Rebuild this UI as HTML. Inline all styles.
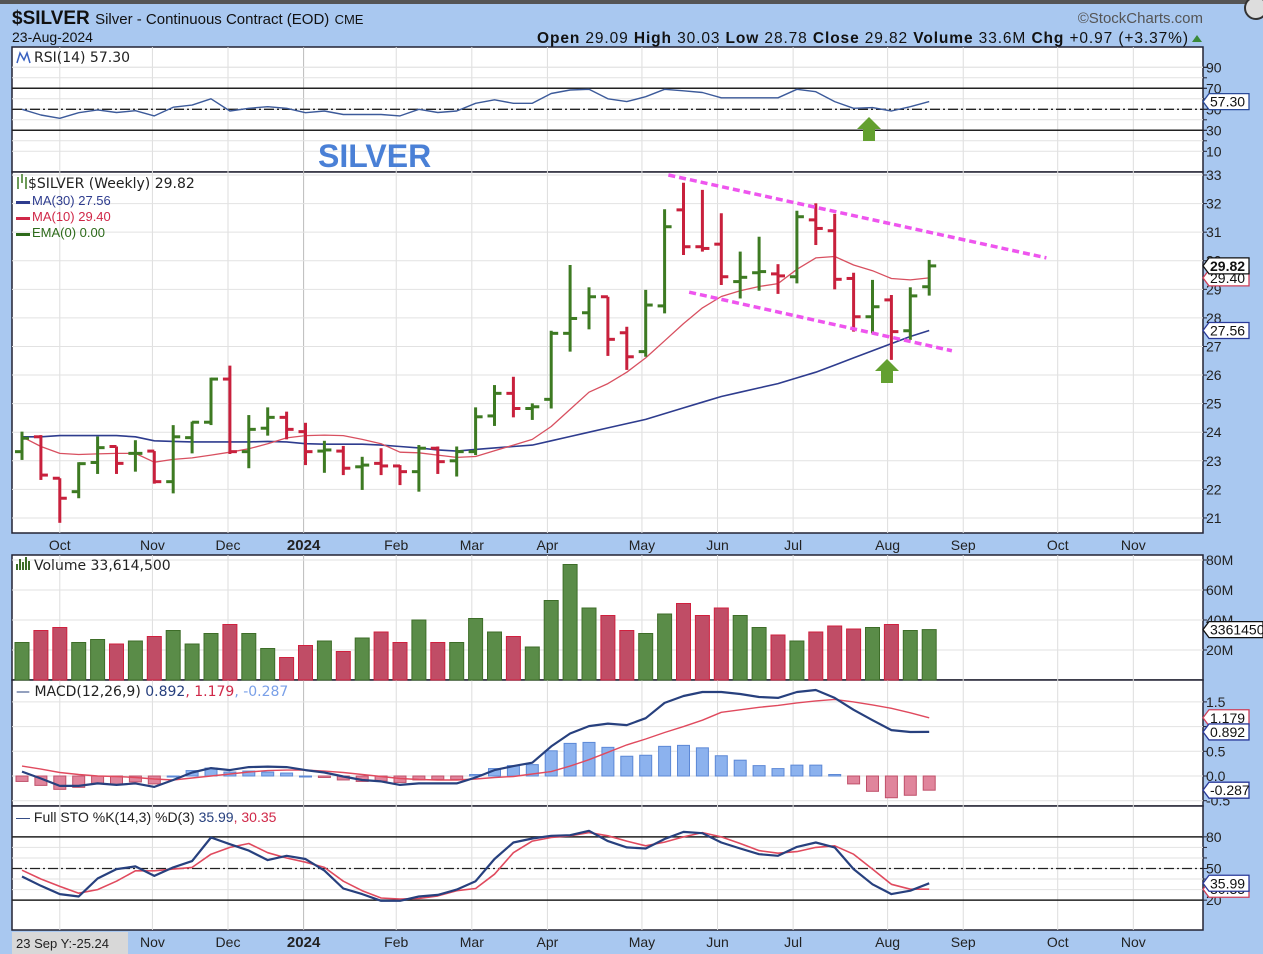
<!DOCTYPE html>
<html><head><meta charset="utf-8"><style>
html,body{margin:0;padding:0;background:#a9c8f0;}
svg{display:block;font-family:"Liberation Sans",sans-serif;}
</style></head><body>
<svg id="chart" width="1263" height="954" viewBox="0 0 1263 954" xmlns="http://www.w3.org/2000/svg">
<rect x="0" y="0" width="1263" height="954" fill="#a9c8f0"/>
<rect x="0" y="0" width="1263" height="4" fill="#555"/>
<circle cx="1256" cy="8" r="11" fill="#ddd" stroke="#333" stroke-width="2"/>
<text x="12" y="24" font-size="19" font-weight="bold" fill="#111">$SILVER <tspan font-size="15" font-weight="normal">Silver - Continuous Contract (EOD)</tspan> <tspan font-size="13" font-weight="normal">CME</tspan></text>
<text x="12" y="42" font-size="14" fill="#111">23-Aug-2024</text>
<text x="1203" y="23" font-size="15" fill="#555" text-anchor="end">©StockCharts.com</text>
<text x="537" y="43" font-size="15.5" fill="#111" textLength="651" lengthAdjust="spacing"><tspan font-weight="bold">Open</tspan> 29.09 <tspan font-weight="bold">High</tspan> 30.03 <tspan font-weight="bold">Low</tspan> 28.78 <tspan font-weight="bold">Close</tspan> 29.82 <tspan font-weight="bold">Volume</tspan> 33.6M <tspan font-weight="bold">Chg</tspan> +0.97 (+3.37%)</text>
<polygon points="1192,42 1202,42 1197,35" fill="#3a8a3a"/>
<g id="layer"></g>
</svg>
<script>
// ---- data ----
const opens  = [23.32,23.84,22.39,21.92,22.94,23.5,23.26,23.34,22.27,23.81,24.35,25.86,23.32,24.14,24.52,24.02,23.34,23.34,22.79,22.91,22.82,22.62,23.44,23.0,23.32,24.57,25.36,24.83,25.15,27.46,28.18,28.74,27.48,26.82,28.42,31.78,30.49,30.58,29.27,29.58,29.54,29.44,31.43,31.05,29.38,28.04,28.63,27.55,29.09];
const highs  = [24.02,23.9,22.39,22.95,23.85,23.5,23.72,23.34,24.25,24.37,25.91,26.33,24.6,24.87,24.72,24.33,23.7,23.52,23.14,23.44,22.85,23.55,23.5,23.5,24.87,25.65,25.94,25.01,27.55,29.85,29.07,28.74,27.69,28.98,31.8,32.73,32.48,31.66,30.32,30.84,29.88,31.75,32.01,31.64,29.58,29.33,28.8,29.07,30.03];
const lows   = [23.03,22.33,20.83,21.69,22.54,22.54,22.62,22.2,21.86,23.26,24.25,23.24,22.74,23.88,23.75,22.85,22.58,22.5,21.98,22.5,22.15,21.92,22.54,22.45,23.2,24.22,24.52,24.43,24.83,26.82,27.6,26.67,26.18,26.64,28.16,30.2,30.32,29.15,28.68,28.95,28.84,29.21,30.55,29.0,27.52,27.46,26.53,27.23,28.78];
const closes = [23.79,22.5,21.69,22.9,23.46,22.91,23.26,22.27,23.84,24.35,25.86,23.32,24.1,24.52,24.1,23.32,23.38,22.74,22.85,22.82,22.62,23.44,22.97,23.32,24.54,25.36,24.83,24.89,27.46,27.98,28.74,27.25,26.64,28.45,31.19,30.49,30.43,29.44,29.42,29.62,29.47,31.54,31.13,29.35,28.04,28.39,27.52,28.77,29.82];
const ma30 = [23.84,23.84,23.88,23.88,23.88,23.88,23.84,23.7,23.68,23.66,23.66,23.66,23.66,23.68,23.66,23.6,23.58,23.58,23.58,23.55,23.5,23.45,23.38,23.34,23.4,23.45,23.5,23.55,23.7,23.85,24.0,24.15,24.3,24.45,24.65,24.85,25.05,25.25,25.4,25.55,25.7,25.9,26.1,26.35,26.6,26.85,27.1,27.35,27.56];
const ma10 = [23.84,23.5,23.26,23.22,23.24,23.26,23.26,22.95,23.05,23.1,23.2,23.3,23.42,23.6,23.8,23.88,23.9,23.88,23.75,23.6,23.3,23.28,23.2,23.12,23.15,23.35,23.55,23.75,24.2,24.8,25.4,25.7,26.1,26.6,27.2,27.8,28.35,28.75,28.95,29.1,29.2,29.7,30.1,30.15,29.85,29.65,29.38,29.33,29.4];
const volumes = [25,33,35,25,27,24,26,29,33,24,31,37,31,21,15,23,26,19,28,32,25,40,25,25,41,32,29,22,53,77,48,43,33,31,44,51,43,48,43,35,30,26,32,36,34,35,37,33,33.6];
const rsi = [50,44.6,41.4,46.8,49.4,47,48.7,43.7,52,54,60,48.4,51,52.5,51,46.8,48.4,45,45,45,43.7,50,47,48.4,55.7,59,55.7,55.7,65,68.4,69,60,57.3,62,69,67.6,66,61,61,61,61,69,66.8,57.3,51,51.6,48.4,52.5,57.3];
const macd = [0.09,-0.05,-0.2,-0.2,-0.15,-0.18,-0.15,-0.22,-0.08,0.07,0.16,0.12,0.18,0.19,0.18,0.12,0.07,-0.01,-0.08,-0.11,-0.18,-0.15,-0.15,-0.15,-0.03,0.12,0.2,0.27,0.6,0.86,1.01,1.06,1.03,1.17,1.48,1.62,1.7,1.7,1.66,1.6,1.58,1.7,1.74,1.58,1.34,1.13,0.93,0.89,0.892];
const signal = [0.2,0.14,0.07,0.03,0.0,-0.01,-0.03,-0.06,-0.08,-0.04,0.0,0.04,0.08,0.11,0.12,0.12,0.1,0.07,0.03,-0.01,-0.05,-0.07,-0.08,-0.08,-0.06,-0.03,-0.01,0.04,0.09,0.2,0.33,0.48,0.63,0.75,0.88,1.0,1.13,1.29,1.34,1.39,1.43,1.48,1.52,1.55,1.5,1.44,1.37,1.28,1.179];
const stoK = [42.4,33.6,25.7,23.5,40.5,49.4,52,43,51,57,79.4,73,67,58,62,59,48,31,25.7,19.4,19.4,23.5,25,30,38,59,74.6,78.4,81,81.6,85.7,76,70,69,78,84.7,83.5,74.6,69,63.6,62,70.5,74.6,70,49.4,35,25.7,29,35.99];
const stoD = [48.4,40,33,26.6,30,38,47.8,47.8,49.4,51,63.6,70,73.7,65,60,56,51,38,29,22,21,21.6,24,29,31,44.6,65,76,79.4,81,84,81,76,71.5,75,80,84,80,73.7,67,64.5,66,70,71.5,63.6,49.4,35,30.4,30.35];
const monthLabels = ["Oct","Nov","Dec","2024","Feb","Mar","Apr","May","Jun","Jul","Aug","Sep","Oct","Nov"];
const monthPos = [2,6.9,10.9,14.9,19.8,23.8,27.8,32.8,36.8,40.8,45.8,49.8,54.8,58.8];
const bottomLabels = ["Nov","Dec","2024","Feb","Mar","Apr","May","Jun","Jul","Aug","Sep","Oct","Nov"];
const bottomPos = [6.9,10.9,14.9,19.8,23.8,27.8,32.8,36.8,40.8,45.8,49.8,54.8,58.8];
const priceTicks = [21,22,23,24,25,26,27,28,29,30,31,32,33];
const rsiTicks = [10,30,50,70,90];
const volTicks = [20,40,60,80];
const macdTicks = [-0.5,0,0.5,1,1.5];
const stoTicks = [20,50,80];
const upperTrend = [[34.2,33.0],[54.2,30.1]];
const lowerTrend = [[35.3,28.9],[49.2,26.85]];

// ---- scales ----
const L=12,R=1203;
const X=i=>22+i*18.9;
const yP=p=>175+(33-p)*28.58;
const yR=v=>109.3-(v-50)*1.05;
const yV=v=>680-v*1.5;
const yM=v=>776-v*49.4;
const yS=v=>868.5-(v-50)*1.055;
const NS="http://www.w3.org/2000/svg";
const layer=document.getElementById('layer');
function mk(tag,attrs,parent){const e=document.createElementNS(NS,tag);for(const k in attrs)e.setAttribute(k,attrs[k]);(parent||layer).appendChild(e);return e;}
const GREEN="#3d7a22",RED="#c8203c";

const panels=[["rsi-panel",47,172],["price-panel",172,533],["volume-panel",555,680],["macd-panel",680,806],["sto-panel",806,930]];
panels.forEach(p=>{
  const r=mk('rect',{x:L,y:p[1],width:R-L,height:p[2]-p[1],fill:"#fff",stroke:"#223",'stroke-width':1.5});
  
  
});
const gridG=mk('g',{});


monthPos.forEach((m,i)=>{
  const x=X(m);
  panels.forEach(p=>{const l=mk('line',{x1:x,x2:x,y1:p[1],y2:p[2],stroke:monthLabels[i]==="2024"?"#bbb":"#ddd","stroke-width":1},gridG);
  
  });
});
function hgrid(vals,fy,top,bot,name,lab,fmt){
  vals.forEach(v=>{const y=fy(v);if(y<top||y>bot)return;
    const l=mk('line',{x1:L,x2:R,y1:y,y2:y,stroke:"#e2e2e2"});
    
    
    const t=mk('line',{x1:R,x2:R+4,y1:y,y2:y,stroke:"#223"});
    
    
    if(lab){const tx=mk('text',{x:R+3,y:y+5,'font-size':14,fill:"#222"});tx.textContent=fmt?fmt(v):v;
    
    }
  });
}
hgrid(priceTicks,yP,172,533,'price-axis',true);
hgrid([20,30,40,50,60,70,80,90],yR,47,172,'rsi-axis',false);
hgrid(rsiTicks,yR,47,172,'rsi-axis',true);
hgrid(volTicks,yV,555,680,'volume-axis',true,v=>v+"M");
hgrid(macdTicks,yM,680,806,'macd-axis',true,v=>v.toFixed(1));
hgrid([30,40,60,70],yS,806,930,'sto-axis',false);
hgrid(stoTicks,yS,806,930,'sto-axis',true);
[[yR(70),"solid"],[yR(30),"solid"],[yR(50),"dash"],[yS(80),"solid"],[yS(20),"solid"],[yS(50),"dash"]].forEach(r=>{
  const l=mk('line',{x1:L,x2:R,y1:r[0],y2:r[0],stroke:"#222","stroke-width":r[1]==="solid"?1.5:1.3});
  if(r[1]==="dash")l.setAttribute('stroke-dasharray','10 3 2 3');
  
  
});
monthLabels.forEach((m,i)=>{const t=mk('text',{x:X(monthPos[i]),y:550,'font-size':m==="2024"?15:14,'font-weight':m==="2024"?"bold":"normal",fill:"#222",'text-anchor':'middle'});t.textContent=m;

});
bottomLabels.forEach((m,i)=>{const t=mk('text',{x:X(bottomPos[i]),y:947,'font-size':m==="2024"?15:14,'font-weight':m==="2024"?"bold":"normal",fill:"#222",'text-anchor':'middle'});t.textContent=m;

});
function line(vals,fy,color,w,name){const d=vals.map((v,i)=>(i?"L":"M")+X(i).toFixed(1)+","+fy(v).toFixed(1)).join("");
 const p=mk('path',{d:d,fill:"none",stroke:color,"stroke-width":w,"stroke-linejoin":"round"});
 
 }
line(rsi,yR,"#3c5a9a",1.4,'rsi-line');
volumes.forEach((v,i)=>{const up=closes[i]>=opens[i];
 const r=mk('rect',{x:X(i)-7,y:yV(v),width:14,height:680-yV(v),fill:up?"#5a8c48":"#c04d66",stroke:up?"#3d6d28":"#d0203e","stroke-width":1});
 
 });
macd.forEach((m,i)=>{const h=m-signal[i];const y0=yM(0),y1=yM(h);
 const r=mk('rect',{x:X(i)-6,y:Math.min(y0,y1),width:12,height:Math.max(1,Math.abs(y1-y0)),fill:h>=0?"#8cb2ee":"#e0859c",stroke:h>=0?"#5c88d6":"#c0506a","stroke-width":1});
 
 });
line(signal,yM,"#e04a5e",1.4,'macd-signal-line');
line(macd,yM,"#27407e",2.2,'macd-line');
line(stoD,yS,"#e04a5e",1.6,'sto-d-line');
line(stoK,yS,"#27407e",2.2,'sto-k-line');
line(ma30,yP,"#2e3c8e",1.6,'ma30-line');
line(ma10,yP,"#d85060",1.3,'ma10-line');
closes.forEach((c,i)=>{const up=c>=opens[i];const col=up?GREEN:RED;const x=X(i);
 const g=mk('g',{stroke:col,"stroke-width":3});
 
 
 mk('line',{x1:x,x2:x,y1:yP(highs[i]),y2:yP(lows[i])},g);
 mk('line',{x1:x-7,x2:x,y1:yP(opens[i]),y2:yP(opens[i])},g);
 mk('line',{x1:x,x2:x+7,y1:yP(c),y2:yP(c)},g);});
[[upperTrend,'upper-trendline'],[lowerTrend,'lower-trendline']].forEach(t=>{
 const l=mk('line',{x1:X(t[0][0][0]),y1:yP(t[0][0][1]),x2:X(t[0][1][0]),y2:yP(t[0][1][1]),stroke:"#ee55ee","stroke-width":3.5,"stroke-dasharray":"7 4"});
 
 });
function arrow(cx,top,name){const p=mk('polygon',{points:`${cx},${top} ${cx+12},${top+12} ${cx+6},${top+12} ${cx+6},${top+24} ${cx-6},${top+24} ${cx-6},${top+12} ${cx-12},${top+12}`,fill:"#63a030"});
 
 }
arrow(869,117,'rsi-green-arrow');
arrow(887,359,'price-green-arrow');
function flag(y,txt,col,bold,name,w){const x=1203;
 const p=mk('path',{d:`M${x},${y} L${x+6},${y-8} L${x+(w||46)},${y-8} L${x+(w||46)},${y+8} L${x+6},${y+8} Z`,fill:"#fff",stroke:col,"stroke-width":1.3});
 
 
 const t=mk('text',{x:x+7,y:y+5,'font-size':14,'font-weight':bold?"bold":"normal",fill:"#111"});t.textContent=txt;
 
 }
flag(yP(ma10[48]),ma10[48].toFixed(2),"#d04058",false,'ma10-value-flag');
flag(yP(closes[48]),closes[48].toFixed(2),"#111",true,'close-value-flag');
flag(yP(ma30[48]),ma30[48].toFixed(2),"#2a3a9a",false,'ma30-value-flag');
flag(yR(rsi[48]),rsi[48].toFixed(2),"#2a4a9a",false,'rsi-value-flag');
flag(yV(volumes[48]),"33614500","#111",false,'volume-value-flag',60);
flag(yM(signal[48]),signal[48].toFixed(3),"#d04058",false,'signal-value-flag');
flag(yM(macd[48]),macd[48].toFixed(3),"#2a3a9a",false,'macd-value-flag');
flag(yM(macd[48]-signal[48]),(macd[48]-signal[48]).toFixed(3),"#2a3a9a",false,'histogram-value-flag');
flag(yS(stoD[48]),stoD[48].toFixed(2),"#d04058",false,'sto-d-value-flag');
flag(yS(stoK[48]),stoK[48].toFixed(2),"#2a3a9a",false,'sto-k-value-flag');
function lab(x,y,txt,col,size,name,weight){const t=mk('text',{x:x,y:y,'font-size':size,fill:col,'font-family':'"DejaVu Sans",sans-serif','font-weight':weight||"normal"});t.innerHTML=txt;
 
 return t;}
lab(34,62,"RSI(14) 57.30","#222",14,'rsi-legend');
lab(28,188,"$SILVER (Weekly) 29.82","#222",14,'price-legend');
const f='"Liberation Sans",sans-serif';
lab(32,205,"MA(30) 27.56","#2e3c8e",13,'ma30-legend').setAttribute('font-family',f);
lab(32,221,"MA(10) 29.40","#d02848",13,'ma10-legend').setAttribute('font-family',f);
lab(32,237,"EMA(0) 0.00","#2d6a1a",13,'ema-legend').setAttribute('font-family',f);
[[201,"#2e3c8e"],[217,"#d02848"],[233,"#2d6a1a"]].forEach(a=>{const r=mk('rect',{x:16,y:a[0],width:14,height:3,fill:a[1]});
 
 });
lab(34,570,"Volume 33,614,500","#222",14,'volume-legend');
lab(16,696,'<tspan fill="#27407e">—</tspan> MACD(12,26,9) <tspan fill="#27407e">0.892</tspan><tspan fill="#d02848">, 1.179</tspan><tspan fill="#7aa0e8">, -0.287</tspan>',"#222",14,'macd-legend');
lab(16,822,'<tspan fill="#27407e">—</tspan> Full STO %K(14,3) %D(3) <tspan fill="#27407e">35.99</tspan><tspan fill="#d02848">, 30.35</tspan>',"#222",14,'sto-legend').setAttribute('font-family',f);
const big=lab(318,167,"SILVER","#4a80d6",32,'silver-watermark',"bold");big.setAttribute('font-family',f);
const bx=mk('rect',{x:12,y:932,width:116,height:22,fill:"#d8d8d8"});


const bt=lab(16,948,"23 Sep Y:-25.24","#222",13,'crosshair-readout');bt.setAttribute('font-family',f);
const ic=mk('path',{d:"M17,63 L20,53 L24,60 L27,53 L30,63",fill:"none",stroke:"#3a62c0","stroke-width":1.5});


const vi=mk('path',{d:"M17,570 v-6 M20,570 v-11 M23,570 v-8 M26,570 v-13 M29,570 v-9",stroke:"#3d6d28","stroke-width":2});


const pi=mk('path',{d:"M18,189 v-12 M22,183 v-9 M26,189 v-12",stroke:"#3d7a22","stroke-width":1.5});


</script>
</body></html>
